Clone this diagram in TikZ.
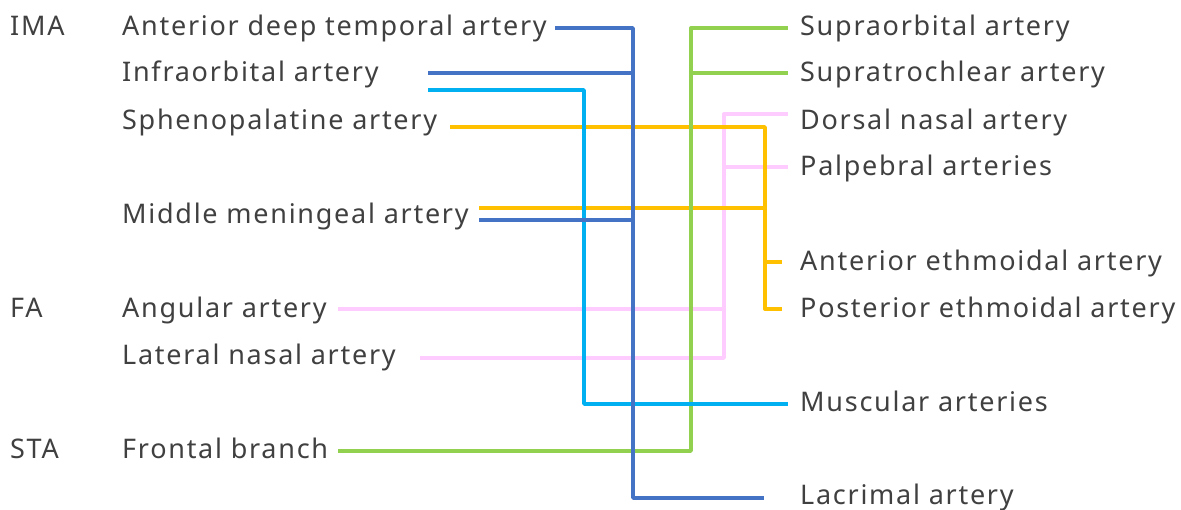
\documentclass[tikz,border=0pt]{standalone}
\usepackage{fontspec}
\setmainfont{Noto Sans}[LetterSpace=6.4]
\definecolor{cblue}{HTML}{4472C4}
\definecolor{clblue}{HTML}{00B0F0}
\definecolor{corange}{HTML}{FFC000}
\definecolor{cgreen}{HTML}{92D050}
\definecolor{cpink}{HTML}{FFCCFF}
\definecolor{ctext}{HTML}{404040}
\begin{document}
\begin{tikzpicture}[x=1pt,y=-1pt,
  lbl/.style={anchor=base west,inner sep=0pt,text=ctext,font=\fontsize{27}{31}\selectfont},
  conn/.style={line width=3.4pt,line join=round}]
\useasboundingbox (0,0) rectangle (1181,510);
% group labels
\node[lbl] (ima) at (10,36) {IMA};
\node[lbl] (fa) at (10,318) {FA};
\node[lbl] (sta) at (10,458) {STA};
% left labels
\node[lbl] (adt) at (122,36) {Anterior deep temporal artery};
\node[lbl] (inf) at (122,82) {Infraorbital artery};
\node[lbl] (sph) at (122,130) {Sphenopalatine artery};
\node[lbl] (mma) at (122,224) {Middle meningeal artery};
\node[lbl] (ang) at (122,318) {Angular artery};
\node[lbl] (lna) at (122,365) {Lateral nasal artery};
\node[lbl] (fb) at (122,458) {Frontal branch};
% right labels
\node[lbl] (sup) at (800,36) {Supraorbital artery};
\node[lbl] (str) at (800,82) {Supratrochlear artery};
\node[lbl] (dna) at (800,130) {Dorsal nasal artery};
\node[lbl] (pal) at (800,176) {Palpebral arteries};
\node[lbl] (aea) at (800,271) {Anterior ethmoidal artery};
\node[lbl] (pea) at (800,318) {Posterior ethmoidal artery};
\node[lbl] (mus) at (800,412) {Muscular arteries};
\node[lbl] (lac) at (800,504) {Lacrimal artery};
% connector end points
\coordinate (adtE) at (555,28);
\coordinate (infE) at (428,73);
\coordinate (infE2) at (428,90);
\coordinate (sphE) at (450,127);
\coordinate (mmaE) at (479,208);
\coordinate (mmaE2) at (479,220);
\coordinate (angE) at (338,309);
\coordinate (lnaE) at (420,358);
\coordinate (fbE) at (338,451);
\coordinate (supE) at (788,28);
\coordinate (strE) at (788,73);
\coordinate (dnaE) at (788,114);
\coordinate (palE) at (788,167);
\coordinate (aeaE) at (782,262);
\coordinate (peaE) at (782,309);
\coordinate (musE) at (788,404);
\coordinate (lacE) at (764,498);
% pink
\draw[conn,cpink] (dnaE) -- (724,114) -- (724,358) -- (lnaE);
\draw[conn,cpink] (palE) -- (724,167);
\draw[conn,cpink] (angE) -- (724,309);
% orange
\draw[conn,corange] (sphE) -- (765,127) -- (765,309) -- (peaE);
\draw[conn,corange] (mmaE) -- (765,208);
\draw[conn,corange] (aeaE) -- (765,262);
% green
\draw[conn,cgreen] (supE) -- (691,28) -- (691,451) -- (fbE);
\draw[conn,cgreen] (strE) -- (691,73);
% light blue
\draw[conn,clblue] (infE2) -- (584,90) -- (584,404) -- (musE);
% blue
\draw[conn,cblue] (adtE) -- (633,28) -- (633,498) -- (lacE);
\draw[conn,cblue] (infE) -- (633,73);
\draw[conn,cblue] (mmaE2) -- (633,220);
\end{tikzpicture}
\end{document}
